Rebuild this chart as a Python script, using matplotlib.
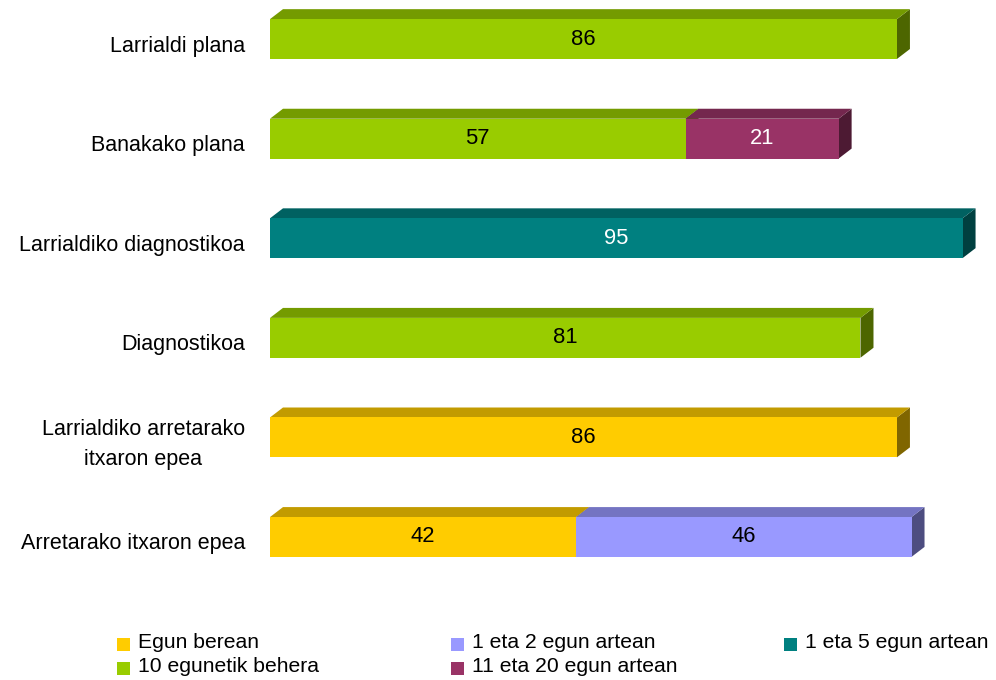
import matplotlib
matplotlib.use("Agg")
import matplotlib.pyplot as plt
from matplotlib.patches import Polygon, Rectangle
from matplotlib.colors import to_rgb

plt.rcParams['font.family'] = ['Liberation Sans', 'DejaVu Sans']

# data (top row first)
categories = ["Larrialdi plana", "Banakako plana", "Larrialdiko diagnostikoa",
              "Diagnostikoa", "Larrialdiko arretarako\nitxaron epea",
              "Arretarako itxaron epea"]
series_names = ["Egun berean", "1 eta 2 egun artean", "1 eta 5 egun artean",
                "10 egunetik behera", "11 eta 20 egun artean"]
series_colors = ["#FFCC00", "#9999FF", "#008080", "#99CC00", "#993366"]
text_colors = ["black", "black", "white", "black", "white"]
egun_berean = [0, 0, 0, 0, 86, 42]
eta_1_2 = [0, 0, 0, 0, 0, 46]
eta_1_5 = [0, 0, 95, 0, 0, 0]
egunetik_10 = [86, 57, 0, 81, 0, 0]
eta_11_20 = [0, 21, 0, 0, 0, 0]
series = [egun_berean, eta_1_2, eta_1_5, egunetik_10, eta_11_20]
# stacking order within each bar (left to right)
stack_order = [0, 3, 2, 1, 4]

def shade(c, f):
    r, g, b = to_rgb(c)
    return (r * f, g * f, b * f)

fig = plt.figure(figsize=(9.96, 6.8), dpi=100)
ax = fig.add_axes([270 / 996, 80 / 680, 729 / 996, 600 / 680])
ax.set_xlim(0, 100)
ax.set_ylim(5.633, -0.392)
ax.axis('off')

bh = 0.40
dx = 13 / 7.29
dy = 0.10

for i in range(len(categories)):
    left = 0
    for s in stack_order:
        v = series[s][i]
        if v == 0:
            continue
        c = series_colors[s]
        x0, x1 = left, left + v
        top, bot = i - bh / 2, i + bh / 2
        side = Polygon([(x1, top), (x1 + dx, top - dy), (x1 + dx, bot - dy), (x1, bot)],
                       closed=True, facecolor=shade(c, 0.5), edgecolor='none')
        ax.add_patch(side)
        tp = Polygon([(x0, top), (x0 + dx, top - dy), (x1 + dx, top - dy), (x1, top)],
                     closed=True, facecolor=shade(c, 0.76), edgecolor='none')
        ax.add_patch(tp)
        ax.barh(i, v, left=x0, height=bh, color=c, edgecolor='none')
        ax.text(x0 + v / 2, i, str(v), ha='center', va='center', fontsize=15.8,
                color=text_colors[s])
        left = x1
    ax.text(-25 / 7.29, i + 0.07, categories[i], ha='right', va='center',
            multialignment='center', fontsize=15.5, linespacing=1.6)

# legend, filled row by row in 3 columns
col_x = [117, 451, 784]
row_y = [643, 667]
for k, name in enumerate(series_names):
    cx = col_x[k % 3]
    cy = row_y[k // 3]
    fig.add_artist(Rectangle((cx / 996, (680 - cy - 8) / 680), 13 / 996, 13 / 680,
                             transform=fig.transFigure, facecolor=series_colors[k],
                             edgecolor='none'))
    fig.text((cx + 21) / 996, (680 - cy) / 680, name, ha='left', va='center',
             fontsize=15.2)

fig.savefig("out.png", dpi=100)
